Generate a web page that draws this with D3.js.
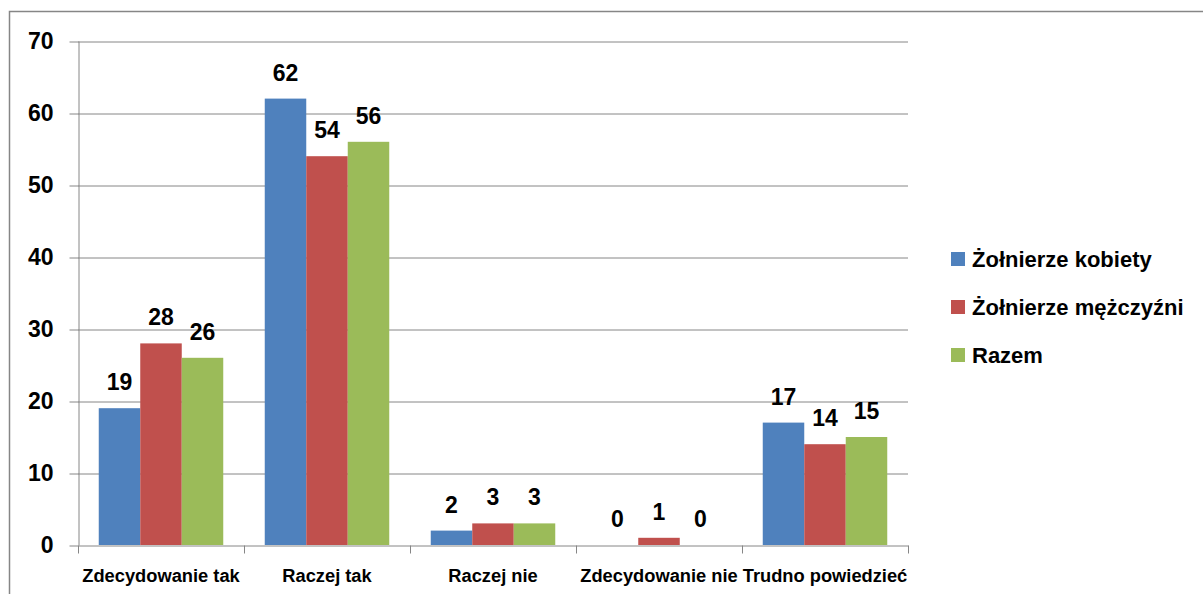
<!DOCTYPE html>
<html lang="pl">
<head>
<meta charset="utf-8">
<script src="https://d3js.org/d3.v7.min.js"></script>
<style>
    body {
        margin: 0;
        background: #fff;
        font-family: 'Liberation Sans', Arial, sans-serif;
    }
    .grid line {
        stroke: #868686;
        stroke-width: 1px;
    }
    .axis path, .axis line {
        stroke: #868686;
        stroke-width: 1px;
    }
    .axis text {
        font-weight: bold;
        fill: #000;
    }
    .data-label {
        font-size: 23px;
        font-weight: bold;
        text-anchor: middle;
    }
    .legend text {
        font-size: 22px;
        font-weight: bold;
    }
</style>
</head>
<body>
<script>
    // categories and series
    var categories = ["Zdecydowanie tak", "Raczej tak", "Raczej nie", "Zdecydowanie nie", "Trudno powiedzieć"];
    var seriesNames = ["Żołnierze kobiety", "Żołnierze mężczyźni", "Razem"];
    var kobiety = [19, 62, 2, 0, 17];
    var mezczyzni = [28, 54, 3, 1, 14];
    var razem = [26, 56, 3, 0, 15];
    var yTicks = [0, 10, 20, 30, 40, 50, 60, 70];
    var colors = ["#4F81BD", "#C0504D", "#9BBB59"];

    var seriesValues = [kobiety, mezczyzni, razem];

    var width = 1203, height = 594;
    var plot = {left: 78, right: 908, top: 41, bottom: 545};

    var svg = d3.select("body").append("svg")
        .attr("width", width)
        .attr("height", height);

    // outer chart border (runs off the picture to the right and bottom)
    svg.append("rect")
        .attr("x", 9.5)
        .attr("y", 11.5)
        .attr("width", 1300)
        .attr("height", 700)
        .attr("fill", "#fff")
        .attr("stroke", "#868686")
        .attr("stroke-width", 1.5);

    var x0 = d3.scaleBand()
        .domain(categories)
        .range([plot.left, plot.right])
        .padding(0);

    var bw = x0.bandwidth();
    var x1 = d3.scaleBand()
        .domain(d3.range(seriesNames.length))
        .range([bw * 0.125, bw * 0.875])
        .padding(0);

    var y = d3.scaleLinear()
        .domain([0, 70])
        .range([plot.bottom, plot.top]);

    // gridlines
    svg.append("g")
        .attr("class", "grid")
        .attr("transform", "translate(" + plot.left + ",0)")
        .call(d3.axisLeft(y).tickValues(yTicks.slice(1)).tickSize(-(plot.right - plot.left)).tickFormat(""))
        .call(g => g.select(".domain").remove())
        .call(g => g.selectAll("line").attr("transform", "translate(0,0.5)"));

    // y axis
    svg.append("g")
        .attr("class", "axis y-axis")
        .attr("transform", "translate(" + (plot.left + 0.5) + ",0)")
        .call(d3.axisLeft(y).tickValues(yTicks).tickSize(9).tickSizeOuter(0).tickPadding(16))
        .call(g => g.selectAll(".tick line").attr("transform", "translate(0,0.5)"))
        .call(g => g.selectAll("text").style("font-size", "23px"));

    // bars
    var groups = svg.selectAll(".group")
        .data(categories)
        .enter().append("g")
        .attr("class", "group")
        .attr("transform", function(d) { return "translate(" + x0(d) + ",0)"; });

    groups.selectAll("rect")
        .data(function(d, i) { return seriesValues.map(function(s, k) { return {k: k, v: s[i]}; }); })
        .enter().append("rect")
        .attr("x", function(d) { return x1(d.k); })
        .attr("y", function(d) { return y(d.v); })
        .attr("width", x1.bandwidth())
        .attr("height", function(d) { return y(0) - y(d.v); })
        .attr("fill", function(d) { return colors[d.k]; });

    groups.selectAll(".data-label")
        .data(function(d, i) { return seriesValues.map(function(s, k) { return {k: k, v: s[i]}; }); })
        .enter().append("text")
        .attr("class", "data-label")
        .attr("x", function(d) { return x1(d.k) + x1.bandwidth() / 2; })
        .attr("y", function(d) { return y(d.v) - 18; })
        .text(function(d) { return d.v; });

    // x axis
    var xAxisG = svg.append("g")
        .attr("class", "axis x-axis")
        .attr("transform", "translate(0," + (plot.bottom + 0.5) + ")")
        .call(d3.axisBottom(x0).tickSize(0).tickSizeOuter(0).tickPadding(24))
        .call(g => g.selectAll("text").style("font-size", "18.3px"));

    // category separators ticks
    xAxisG.selectAll(".sep")
        .data(d3.range(categories.length + 1))
        .enter().append("line")
        .attr("class", "sep")
        .attr("x1", function(i) { return Math.round(plot.left + i * bw) + 0.5; })
        .attr("x2", function(i) { return Math.round(plot.left + i * bw) + 0.5; })
        .attr("y1", 0)
        .attr("y2", 8);

    // legend
    var legend = svg.append("g")
        .attr("class", "legend")
        .attr("transform", "translate(951,252)");

    var item = legend.selectAll("g")
        .data(seriesNames)
        .enter().append("g")
        .attr("transform", function(d, i) { return "translate(0," + (i * 48) + ")"; });

    item.append("rect")
        .attr("width", 14)
        .attr("height", 14)
        .attr("fill", function(d, i) { return colors[i]; });

    item.append("text")
        .attr("x", 21)
        .attr("y", 15)
        .text(function(d) { return d; });
</script>
</body>
</html>
